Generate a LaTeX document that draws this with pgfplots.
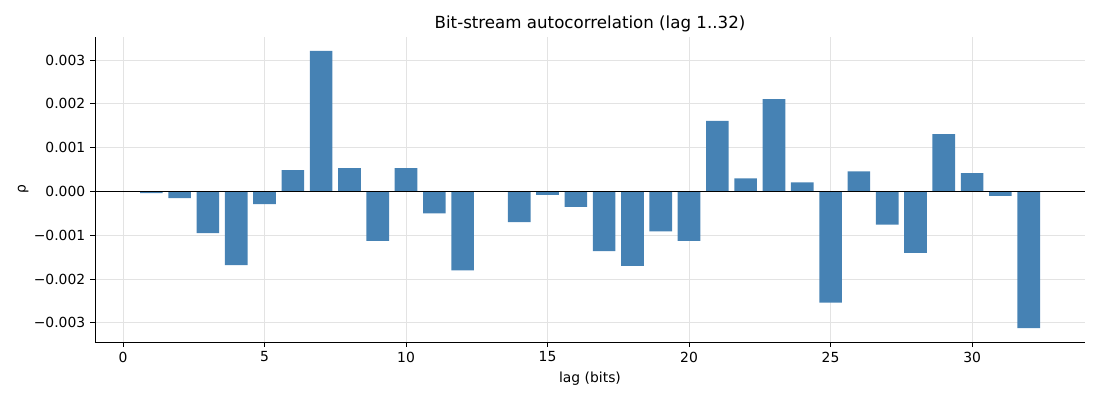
\documentclass[border=0pt]{standalone}
\usepackage{fontspec}
\setmainfont{DejaVu Sans}
\usepackage{pgfplots}
\pgfplotsset{compat=1.18}
\definecolor{steel}{HTML}{4682B4}
\begin{document}
\begin{tikzpicture}
\useasboundingbox (0,0) rectangle (792pt,288pt);
\begin{axis}[
  at={(68.4pt,41.76pt)}, anchor=south west,
  scale only axis, width=712.8pt, height=219.6pt,
  xmin=-0.99, xmax=33.99, ymin=-0.003437, ymax=0.003527,
  axis x line*=bottom, axis y line*=left,
  axis line style={-, line width=0.65pt, black},
  tick align=outside, major tick length=3.5pt,
  tick style={line width=0.65pt, black},
  xtick={0,5,10,15,20,25,30},
  ytick={-0.003,-0.002,-0.001,0,0.001,0.002,0.003},
  yticklabels={−0.003,−0.002,−0.001,0.000,0.001,0.002,0.003},
  scaled y ticks=false,
  /pgf/number format/assume math mode=true,
  tick label style={font=\fontsize{10}{12}\selectfont},
  grid=major, grid style={gray!22, line width=0.6pt},
  xlabel={lag (bits)}, ylabel={ρ},
  ylabel shift=-3pt,
  label style={font=\fontsize{10}{12}\selectfont},
  title={Bit-stream autocorrelation (lag 1..32)},
  title style={font=\fontsize{12}{14.4}\selectfont, yshift=-5.8pt},
]
\addplot[ybar, bar width=0.8, bar shift=0pt, fill=steel, draw=none] coordinates {
(1,-0.00004) (2,-0.00015) (3,-0.00095) (4,-0.00168) (5,-0.00029)
(6,0.00049) (7,0.00321) (8,0.00053) (9,-0.00113) (10,0.00053)
(11,-0.00050) (12,-0.00180) (13,0.0) (14,-0.00070) (15,-0.00008)
(16,-0.00035) (17,-0.00136) (18,-0.00170) (19,-0.00091) (20,-0.00113)
(21,0.00161) (22,0.00030) (23,0.00211) (24,0.00021) (25,-0.00254)
(26,0.00046) (27,-0.00076) (28,-0.00140) (29,0.00131) (30,0.00042)
(31,-0.00010) (32,-0.00312)
};
\addplot[black, line width=0.8pt] coordinates {(-0.99,0) (33.99,0)};
\end{axis}
\end{tikzpicture}
\end{document}
